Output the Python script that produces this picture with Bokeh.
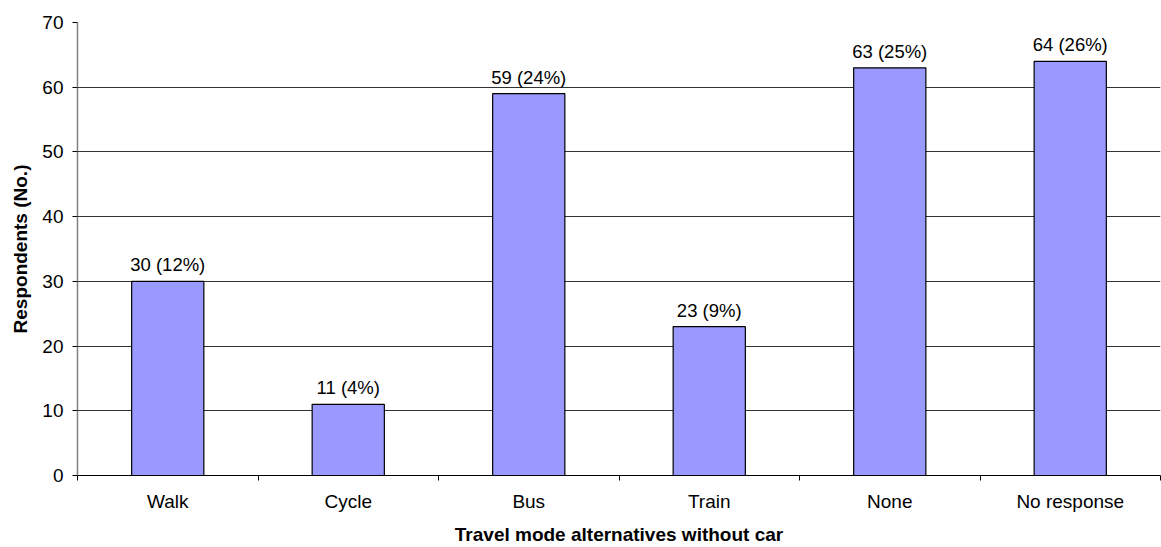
from bokeh.plotting import figure
from bokeh.models import ColumnDataSource, FixedTicker, Range1d
from bokeh.core.properties import value
from bokeh.embed import file_html
from bokeh.resources import INLINE

categories = ["Walk", "Cycle", "Bus", "Train", "None", "No response"]
counts = [30, 11, 59, 23, 63, 64]
labels = ["30 (12%)", "11 (4%)", "59 (24%)", "23 (9%)", "63 (25%)", "64 (26%)"]
y_ticks = [0, 10, 20, 30, 40, 50, 60, 70]

FONT = "Liberation Sans"

xpos = [i + 0.5 for i in range(len(categories))]
source = ColumnDataSource(data=dict(x=xpos, top=counts, label=labels, cat=categories))

p = figure(width=1161, height=547, output_backend="svg", toolbar_location=None,
           x_range=Range1d(0, len(categories)), y_range=Range1d(0, 70),
           min_border_left=77, min_border_right=1, min_border_top=22, min_border_bottom=72)
p.outline_line_color = None
p.background_fill_color = "white"
p.border_fill_color = "white"

p.vbar(x="x", top="top", width=0.4, source=source,
       fill_color="#9999FF", line_color="#000000", line_width=1.2)
p.text(x="x", y="top", text="label", source=source,
       text_align="center", text_baseline="bottom", y_offset=-6,
       text_font=value(FONT), text_font_size="18.5px", text_color="#000000")

# y axis
p.yaxis.ticker = FixedTicker(ticks=y_ticks)
p.yaxis.axis_label = "Respondents (No.)"
p.yaxis.axis_label_text_font = FONT
p.yaxis.axis_label_text_font_style = "bold"
p.yaxis.axis_label_text_font_size = "19px"
p.yaxis.axis_label_text_color = "#000000"
p.yaxis.axis_label_standoff = 8
p.yaxis.major_label_text_font = FONT
p.yaxis.major_label_text_font_size = "19px"
p.yaxis.major_label_text_color = "#000000"
p.yaxis.major_label_standoff = 9
p.yaxis.axis_line_color = "#808080"
p.yaxis.axis_line_width = 1.5
p.yaxis.major_tick_line_color = "#000000"
p.yaxis.major_tick_in = 0
p.yaxis.major_tick_out = 5
p.yaxis.minor_tick_line_color = None

# x axis: labels at centres, ticks at boundaries
p.xaxis.ticker = FixedTicker(ticks=xpos, minor_ticks=list(range(len(categories) + 1)))
p.xaxis.major_label_overrides = {x: c for x, c in zip(xpos, categories)}
p.xaxis.axis_label = "Travel mode alternatives without car"
p.xaxis.axis_label_text_font = FONT
p.xaxis.axis_label_text_font_style = "bold"
p.xaxis.axis_label_text_font_size = "19px"
p.xaxis.axis_label_text_color = "#000000"
p.xaxis.axis_label_standoff = 9
p.xaxis.major_label_text_font = FONT
p.xaxis.major_label_text_font_size = "19px"
p.xaxis.major_label_text_color = "#000000"
p.xaxis.major_label_standoff = 9
p.xaxis.major_tick_line_color = None
p.xaxis.minor_tick_line_color = "#000000"
p.xaxis.minor_tick_in = 0
p.xaxis.minor_tick_out = 5
p.xaxis.axis_line_color = "#000000"

p.xgrid.grid_line_color = None
p.ygrid.ticker = FixedTicker(ticks=y_ticks)
p.ygrid.grid_line_color = "#000000"
p.ygrid.grid_line_alpha = 0.8

open("out.html", "w").write(file_html(p, INLINE))
